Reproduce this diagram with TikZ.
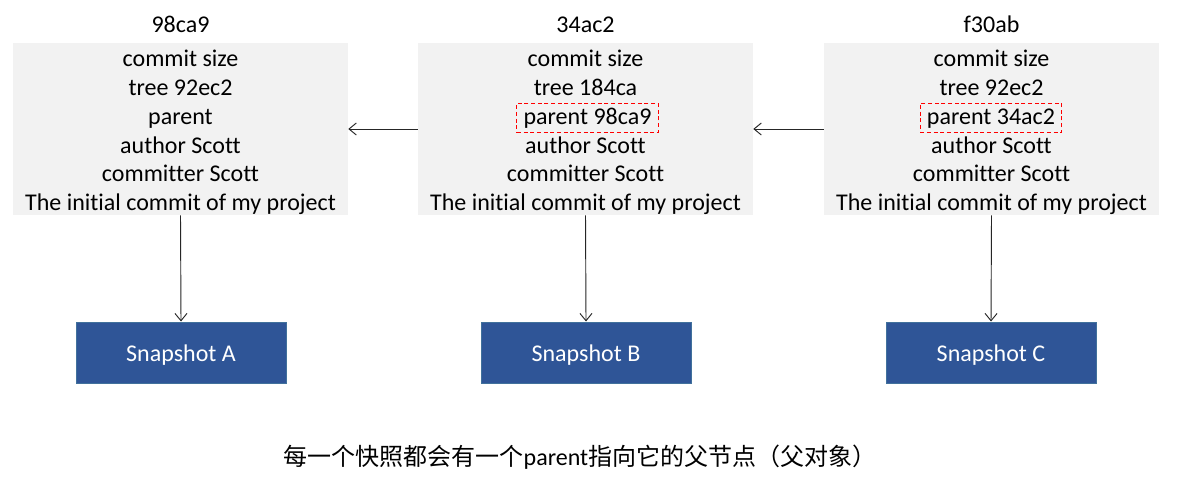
\documentclass[tikz,border=0pt]{standalone}
\usepackage{fontspec}
\setmainfont{Carlito}[Ligatures=NoCommon]
\newfontfamily\cjk{Noto Sans CJK SC}
\usetikzlibrary{arrows.meta}
\definecolor{boxgray}{HTML}{F2F2F2}
\definecolor{snapblue}{HTML}{2F5597}
\definecolor{snapedge}{HTML}{41719C}
\tikzset{
  commitbox/.style={fill=boxgray, draw=none, minimum width=251.25pt, minimum height=129pt, inner sep=0pt},
  line/.style={font=\fontsize{18}{21}\selectfont, inner sep=0pt, anchor=base},
  parentbox/.style={line, draw=red, dash pattern=on 3pt off 2pt, line width=0.75pt, text height=15.75pt, text depth=6pt, inner ysep=0pt, inner xsep=5pt},
  title/.style={font=\fontsize{18}{21}\selectfont, inner sep=0pt, anchor=base},
  snap/.style={fill=snapblue, draw=snapedge, line width=0.75pt, minimum width=157.5pt, minimum height=45.75pt, text=white, text height=13.8pt, text depth=0pt, inner ysep=0pt, font=\fontsize{18}{21}\selectfont},
  conn/.style={-{Straight Barb[length=5.5pt,width=9pt]}, line width=0.7pt, black!85},
}
\begin{document}
\begin{tikzpicture}[x=0.75pt, y=-0.75pt]
\useasboundingbox[fill=white] (0,0) rectangle (1180,488);
% commit A
\node[title] (tA) at (180.5,32.5) {98ca9};
\node[commitbox] (cA) at (180.5,129) {};
\node[line] (a1) at (180.5,66.8) {commit size};
\node[line] (a2) at (180.5,95.6) {tree 92ec2};
\node[line] (a3) at (180.5,124.4) {parent};
\node[line] (a4) at (180.5,153.2) {author Scott};
\node[line] (a5) at (180.5,182) {committer Scott};
\node[line] (a6) at (180.5,210.8) {The initial commit of my project};
% commit B
\node[title] (tB) at (585.5,32.5) {34ac2};
\node[commitbox] (cB) at (585.5,129) {};
\node[line] (b1) at (585.5,66.8) {commit size};
\node[line] (b2) at (585.5,95.6) {tree 184ca};
\node[parentbox] (b3) at (587.5,124.4) {parent 98ca9};
\node[line] (b4) at (585.5,153.2) {author Scott};
\node[line] (b5) at (585.5,182) {committer Scott};
\node[line] (b6) at (585.5,210.8) {The initial commit of my project};
% commit C
\node[title] (tC) at (991.5,32.5) {f30ab};
\node[commitbox] (cC) at (991.5,129) {};
\node[line] (c1) at (991.5,66.8) {commit size};
\node[line] (c2) at (991.5,95.6) {tree 92ec2};
\node[parentbox] (c3) at (991,124.4) {parent 34ac2};
\node[line] (c4) at (991.5,153.2) {author Scott};
\node[line] (c5) at (991.5,182) {committer Scott};
\node[line] (c6) at (991.5,210.8) {The initial commit of my project};
% snapshots
\node[snap] (sA) at (181,352.5) {Snapshot A};
\node[snap] (sB) at (586,352.5) {Snapshot B};
\node[snap] (sC) at (991,352.5) {Snapshot C};
% connectors
\draw[conn] (cB.west) -- (cA.east);
\draw[conn] (cC.west) -- (cB.east);
\draw[conn] (cA.south) -- (sA.north);
\draw[conn] (cB.south) -- (sB.north);
\draw[conn] (cC.south) -- (sC.north);
% caption
\node[inner sep=0pt, font=\fontsize{18}{21}\selectfont] (cap) at (580,457) {\cjk 每一个快照都会有一个{\rmfamily parent}指向它的父节点（父对象）};
\end{tikzpicture}
\end{document}
